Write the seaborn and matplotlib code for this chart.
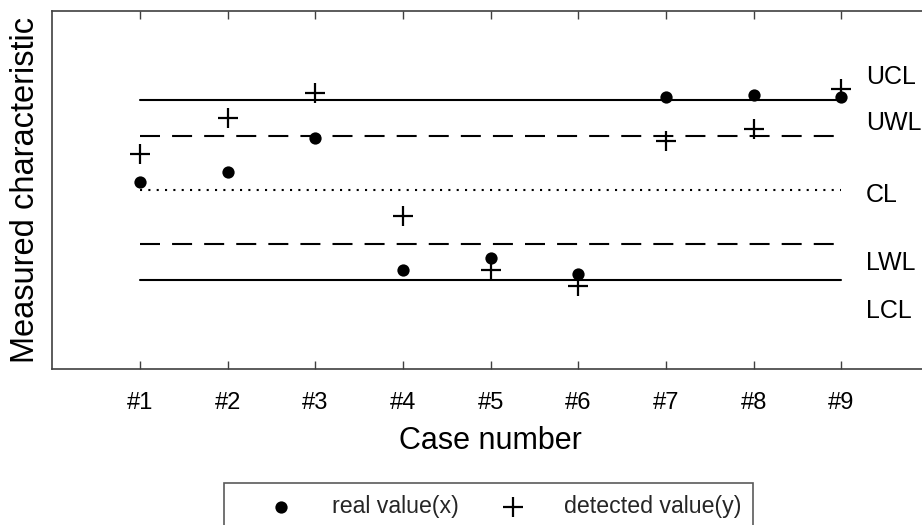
import matplotlib
matplotlib.use("Agg")
import matplotlib.pyplot as plt
import seaborn as sns
import pandas as pd

# Case data
cases = ["#1", "#2", "#3", "#4", "#5", "#6", "#7", "#8", "#9"]
real_values = [0.26, 0.59, 1.74, -2.67, -2.28, -2.81, 3.13, 3.19, 3.11]
detected_values = [1.20, 2.41, 3.24, -0.87, -2.67, -3.20, 1.64, 2.06, 3.39]

# Control chart limits
limit_names = ["UCL", "UWL", "CL", "LWL", "LCL"]
limit_values = [3.0, 1.8, 0.0, -1.8, -3.0]

sns.set_theme(style="white")
plt.rcParams["font.family"] = ["Liberation Sans", "DejaVu Sans"]

idx = list(range(1, len(cases) + 1))
df = pd.DataFrame({"case": idx, "real": real_values, "detected": detected_values})

fig = plt.figure(figsize=(9.22, 5.25), dpi=100)
ax = fig.add_axes([0.0567, 0.2966, 0.9508, 0.6827])

line_styles = {
    "UCL": dict(linestyle="-"),
    "UWL": dict(linestyle=(0, (9.6, 5.8))),
    "CL": dict(linestyle=(0, (1.0, 3.0))),
    "LWL": dict(linestyle=(0, (9.6, 5.8))),
    "LCL": dict(linestyle="-"),
}
label_y = {"UCL": 3.78, "UWL": 2.23, "CL": -0.17, "LWL": -2.44, "LCL": -4.06}

for name, val in zip(limit_names, limit_values):
    ldf = pd.DataFrame({"x": [idx[0], idx[-1]], "y": [val, val]})
    sns.lineplot(data=ldf, x="x", y="y", ax=ax, color="black", linewidth=1.5,
                 **line_styles[name])
    ax.text(9.28, label_y[name], name, fontsize=18, color="black",
            ha="left", va="center")

sns.scatterplot(data=df, x="case", y="real", ax=ax, marker="o", s=78,
                color="black", edgecolor="black", linewidth=0, zorder=3,
                label="real value(x)")
sns.scatterplot(data=df, x="case", y="detected", ax=ax, marker="+", s=225,
                color="black", linewidth=1.6, zorder=3,
                label="detected value(y)")

ax.set_xlim(0, 10)
ax.set_ylim(-6, 6)
ax.set_xticks(idx)
ax.set_xticklabels(cases)
ax.set_yticks([])
ax.tick_params(axis="x", direction="in", top=True, bottom=True, length=6,
               width=1, color="#404040", labelsize=17, pad=16, labelcolor="black")
for s in ax.spines.values():
    s.set_color("#404040")
    s.set_linewidth(1.2)

ax.set_xlabel("Case number", fontsize=22, color="black", labelpad=9)
ax.set_ylabel("Measured characteristic", fontsize=23.5, color="black", labelpad=8)

ax.get_legend().remove()
handles, labels = ax.get_legend_handles_labels()
leg = fig.legend(handles, labels, ncol=2, loc="upper left",
                 bbox_to_anchor=(224 / 922, 1 - 483 / 525),
                 fontsize=16.7, frameon=True, fancybox=False,
                 edgecolor="#303030", borderpad=0.5, borderaxespad=0,
                 columnspacing=0.4, handlelength=3.9, handletextpad=0.25)
leg.get_frame().set_linewidth(1.2)

fig.savefig("out.png", dpi=100)
